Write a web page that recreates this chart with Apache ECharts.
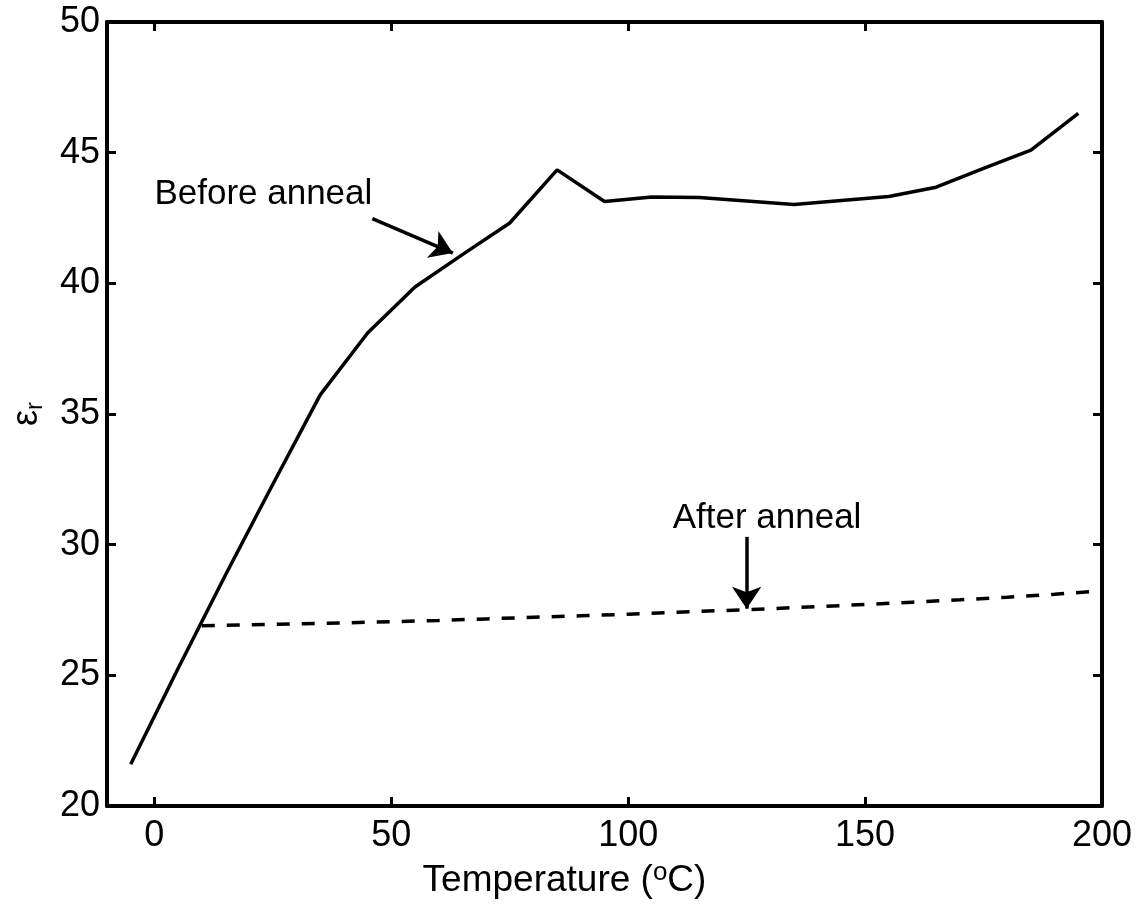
<!DOCTYPE html>
<html>
<head>
<meta charset="utf-8">
<script src="https://cdn.jsdelivr.net/npm/echarts@6/dist/echarts.min.js"></script>
<style>
  html, body { margin: 0; padding: 0; background: #fff; }
  #chart { width: 1145px; height: 907px; }
</style>
</head>
<body>
<div id="chart"></div>
<script>
  // temperatures (°C) and permittivity readings
  const beforeTemp = [-5, 5, 15, 25, 35, 45, 55, 65, 75, 85, 95, 105, 115, 125, 135, 145, 155, 165, 175, 185, 195];
  const beforeEps = [21.6, 25.26, 28.84, 32.31, 35.73, 38.1, 39.86, 41.1, 42.31, 44.34, 43.13, 43.3, 43.28, 43.15, 43.02, 43.17, 43.32, 43.68, 44.4, 45.1, 46.5];

  const afterTemp = [10, 20, 30, 40, 50, 60, 70, 80, 90, 100, 110, 120, 130, 140, 150, 160, 170, 180, 190, 200];
  const afterEps = [26.9, 26.93, 26.97, 27.01, 27.05, 27.1, 27.16, 27.22, 27.28, 27.34, 27.41, 27.48, 27.55, 27.63, 27.71, 27.8, 27.89, 27.99, 28.1, 28.24];

  const xTicks = [0, 50, 100, 150, 200];

  const myChart = echarts.init(document.getElementById('chart'));
  const font = 'Liberation Sans, Arial, Helvetica, sans-serif';

  const axisLine = { show: true, onZero: false, lineStyle: { color: '#000', width: 4 } };
  const tickIn = { inside: true, length: 9, lineStyle: { color: '#000', width: 3 } };

  const option = {
    animation: false,
    backgroundColor: '#fff',
    grid: { left: 107, right: 43, top: 22, bottom: 101, outerBoundsMode: 'none', containLabel: false },
    xAxis: [
      {
        type: 'value',
        min: -10,
        max: 200,
        position: 'bottom',
        axisLine: axisLine,
        axisTick: Object.assign({ customValues: xTicks }, tickIn),
        axisLabel: { customValues: xTicks, color: '#000', fontSize: 36, fontFamily: font, margin: 12 },
        splitLine: { show: false },
        name: 'Temperature ({sup|o}C)',
        nameLocation: 'middle',
        nameGap: 54,
        nameTextStyle: {
          color: '#000', fontSize: 37, fontFamily: font,
          padding: [0, 80, 0, 0],
          rich: { sup: { fontSize: 26, fontFamily: font, color: '#000', verticalAlign: 'top', padding: [0, 0, 16, 0] } }
        }
      },
      {
        type: 'value',
        min: -10,
        max: 200,
        position: 'top',
        axisLine: axisLine,
        axisTick: Object.assign({ customValues: xTicks }, tickIn),
        axisLabel: { show: false },
        splitLine: { show: false }
      }
    ],
    yAxis: [
      {
        type: 'value',
        min: 20,
        max: 50,
        interval: 5,
        position: 'left',
        axisLine: axisLine,
        axisTick: tickIn,
        axisLabel: { color: '#000', fontSize: 36, fontFamily: font, margin: 7 },
        splitLine: { show: false },
        name: '{e|ε}{s|r}',
        nameLocation: 'middle',
        nameGap: 60,
        nameRotate: 90,
        nameTextStyle: {
          color: '#000', fontFamily: font,
          rich: {
            e: { fontSize: 36, fontFamily: font, color: '#000' },
            s: { fontSize: 24, fontFamily: font, color: '#000', padding: [16, 0, 0, 0] }
          }
        }
      },
      {
        type: 'value',
        min: 20,
        max: 50,
        interval: 5,
        position: 'right',
        axisLine: axisLine,
        axisTick: tickIn,
        axisLabel: { show: false },
        splitLine: { show: false }
      }
    ],
    series: [
      {
        name: 'Before anneal',
        type: 'line',
        data: beforeTemp.map((t, i) => [t, beforeEps[i]]),
        showSymbol: false,
        lineStyle: { color: '#000', width: 3.5 },
        markLine: {
          silent: true,
          symbol: ['none', 'arrow'],
          symbolSize: 22,
          label: { show: false },
          lineStyle: { color: '#000', width: 3.5, type: 'solid' },
          data: [
            [{ coord: [46, 42.48] }, { coord: [63, 41.16] }],
            [{ coord: [125, 30.3] }, { coord: [125, 27.55] }]
          ]
        },
        markPoint: {
          silent: true,
          symbol: 'circle',
          symbolSize: 0,
          data: [
            {
              coord: [0, 43.4],
              label: { show: true, formatter: 'Before anneal', position: 'right', distance: 0, color: '#000', fontSize: 35, fontFamily: font }
            },
            {
              coord: [129.3, 31.0],
              label: { show: true, formatter: 'After anneal', position: 'inside', color: '#000', fontSize: 35, fontFamily: font }
            }
          ]
        }
      },
      {
        name: 'After anneal',
        type: 'line',
        data: afterTemp.map((t, i) => [t, afterEps[i]]),
        showSymbol: false,
        lineStyle: { color: '#000', width: 3.5, type: [13, 12] }
      }
    ]
  };

  myChart.setOption(option);
</script>
</body>
</html>
